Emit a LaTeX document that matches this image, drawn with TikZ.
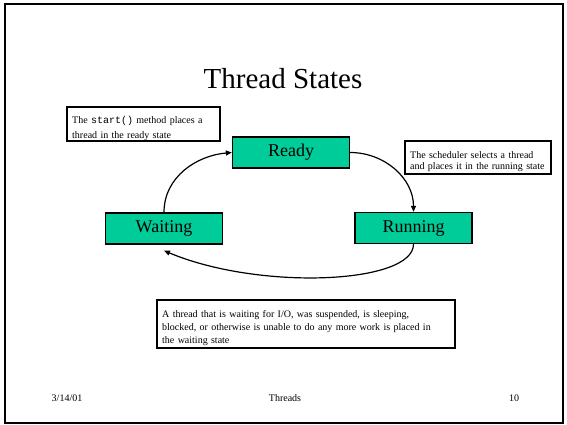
\documentclass[tikz,border=0pt]{standalone}
\usepackage{fontspec}
\setmainfont{Liberation Serif}
\setmonofont{Liberation Mono}
\usetikzlibrary{arrows.meta}
\definecolor{stategreen}{RGB}{0,204,153}
\begin{document}
\begin{tikzpicture}[x=1pt,y=1pt,
  state/.style={draw=black, line width=1.3pt, fill=stategreen, minimum width=117pt, minimum height=31pt, inner sep=0pt, font=\fontsize{18}{20}\selectfont},
  notebox/.style={draw=black, line width=1.2pt, inner sep=0pt},
  notetext/.style={anchor=base west, inner sep=0pt, align=left, text width=#1},
  flow/.style={-{Triangle[length=6pt,width=5pt]}, line width=1.2pt},
  foot/.style={anchor=base, inner sep=0pt, font=\fontsize{10}{12}\selectfont}]
\useasboundingbox (0,0) rectangle (567,424);
\draw[line width=1.6pt] (5,1) rectangle (563,420);
\node[anchor=base, inner sep=0pt, font=\fontsize{29}{32}\selectfont] (title) at (283,336) {Thread States};

\node[state] (ready) at (291,271.5) {Ready};
\node[state] (waiting) at (164,195.5) {Waiting};
\node[state] (running) at (413.5,196) {Running};

\node[notebox, minimum width=153pt, minimum height=34pt] (startbox) at (143.5,300) {};
\node[notetext=150pt, font=\fontsize{10}{15}\selectfont] (starttext) at (72,301) {The \texttt{start()} method places a\\thread in the ready state};

\node[notebox, minimum width=146pt, minimum height=33pt] (schedbox) at (478,266.5) {};
\node[notetext=145pt, font=\fontsize{10}{11}\selectfont] (schedtext) at (410,266) {The scheduler selects a thread\\and places it in the running state};

\node[notebox, minimum width=298pt, minimum height=48pt] (waitbox) at (306,100) {};
\node[notetext=295pt, font=\fontsize{10}{13}\selectfont] (waittext) at (162,107) {A thread that is waiting for I/O, was suspended, is sleeping,\\blocked, or otherwise is unable to do any more work is placed in\\the waiting state};

\draw[flow] (ready.east) to[out=0,in=90] (running.north);
\draw[flow] (running.south) .. controls +(0,-40) and +(95,-40) .. ([yshift=-6pt]waiting.south);
\draw[flow] (waiting.north) to[out=90,in=185] (ready.west);

\node[foot] (date) at (67,23) {3/14/01};
\node[foot] (topic) at (285,23) {Threads};
\node[foot] (page) at (514,23) {10};
\end{tikzpicture}
\end{document}
